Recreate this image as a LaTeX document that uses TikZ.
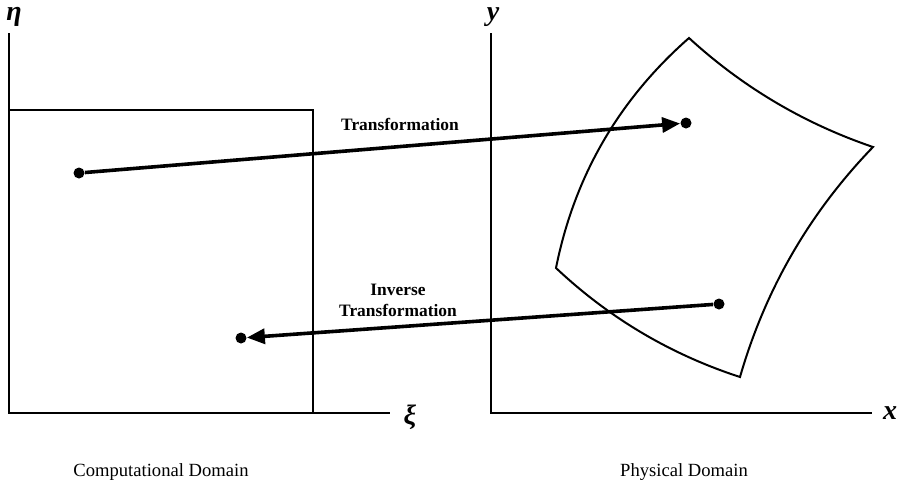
\documentclass[tikz,border=0pt]{standalone}
\usepackage{fontspec}
\setmainfont{Liberation Serif}
\usetikzlibrary{arrows.meta,calc}
\tikzset{
  axisline/.style={line width=1pt},
  dotnode/.style={circle,fill=black,inner sep=0pt,minimum size=5.5pt},
  maparrow/.style={line width=1.8pt,-{Triangle[length=9pt,width=7.5pt]}},
  axislabel/.style={font=\fontsize{14}{14}\selectfont\bfseries\itshape,inner sep=0pt},
  arrowlabel/.style={font=\fontsize{8.7}{10.5}\selectfont\bfseries,align=center,inner sep=0pt},
  domainlabel/.style={font=\fontsize{9.3}{11}\selectfont,inner sep=0pt},
  edge/.style={line width=1pt,line join=miter}
}
\begin{document}
\begin{tikzpicture}[x=0.5pt,y=-0.5pt]
\useasboundingbox (0,0) rectangle (900,494);
% computational domain
\coordinate (o1) at (9,413);
\coordinate (ytop1) at (9,33);
\coordinate (xend1) at (390,413);
\draw[axisline] (ytop1) -- (o1) -- (xend1);
\draw[axisline] (9,110) -- (313,110) -- (313,413);
\node[axislabel] (eta) at (14,17) {η};
\node[axislabel] (xi) at (410,417) {ξ};
% physical domain
\coordinate (o2) at (491,413);
\coordinate (ytop2) at (491,33);
\coordinate (xend2) at (872,413);
\draw[axisline] (ytop2) -- (o2) -- (xend2);
\node[axislabel] (ylab) at (493,17) {y};
\node[axislabel] (xlab) at (890,413) {x};
% curved quadrilateral (quadratic edges)
\coordinate (A) at (556,268);
\coordinate (B) at (689,38);
\coordinate (C) at (873,147);
\coordinate (D) at (740,377);
\coordinate (QAB) at (583.5,130.5);
\coordinate (QBC) at (769.6,111.8);
\coordinate (QCD) at (777.9,245.5);
\coordinate (QDA) at (635.8,343.1);
\draw[edge] (A) .. controls ($(A)!2/3!(QAB)$) and ($(B)!2/3!(QAB)$) .. (B)
  .. controls ($(B)!2/3!(QBC)$) and ($(C)!2/3!(QBC)$) .. (C)
  .. controls ($(C)!2/3!(QCD)$) and ($(D)!2/3!(QCD)$) .. (D)
  .. controls ($(D)!2/3!(QDA)$) and ($(A)!2/3!(QDA)$) .. (A) -- cycle;
% points and arrows
\node[dotnode] (p1) at (79,173) {};
\node[dotnode] (q1) at (686,123) {};
\node[dotnode] (q2) at (719,304) {};
\node[dotnode] (p2) at (241,338) {};
\draw[maparrow] (p1) -- (q1);
\draw[maparrow] (q2) -- (p2);
\node[arrowlabel] (tlab) at (400,124) {Transformation};
\node[arrowlabel] (ilab) at (398,300) {Inverse\\Transformation};
% domain labels
\node[domainlabel] (cd) at (161,472) {Computational Domain};
\node[domainlabel] (pd) at (684,472) {Physical Domain};
\end{tikzpicture}
\end{document}
